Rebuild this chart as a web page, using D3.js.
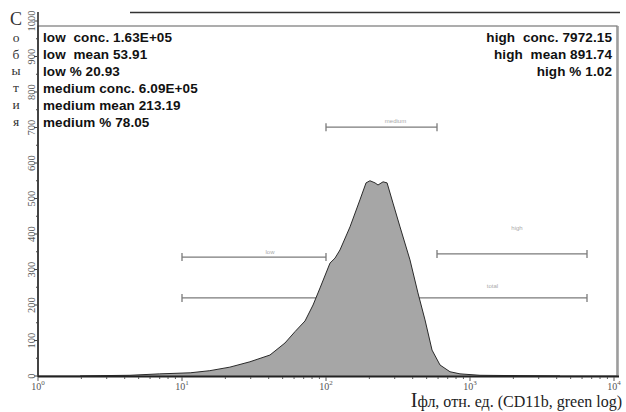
<!DOCTYPE html>
<html>
<head>
<meta charset="utf-8">
<script src="https://cdn.jsdelivr.net/npm/d3@7"></script>
<style>
  body { margin: 0; background: #fff; }
  svg { display: block; }
</style>
</head>
<body>
<script>
// DATA
// histogram: intensity (log axis) and event counts
const intensity = [1.96, 2.7, 4.35, 7, 11.4, 15.6, 21.5, 29.6, 40.8, 51.9, 60.9, 71.5, 81.3, 90.9,
  106.6, 115.5, 125, 146.8, 172, 189.7, 202, 219, 229.7, 249, 265.5, 291.9, 326.6, 383, 435,
  487, 545, 619, 726, 852, 1173, 2224, 4217];
const counts = [0, 1, 2, 6, 9, 15, 25, 40, 59, 93, 125, 155, 200, 248,
  318, 332, 355, 420, 496, 544, 550, 544, 538, 547, 544, 487, 420, 327, 234,
  158, 73, 31, 12, 6, 2, 1, 0];
// gates: name, from, to, level (counts)
const gateNames = ["medium", "low", "high", "total"];
const gateFrom = [100, 10, 590, 10];
const gateTo = [590, 100, 6494, 6494];
const gateLevel = [701, 335, 344, 220];
// stats text
const statsLeft = ["low  conc. 1.63E+05", "low  mean 53.91", "low % 20.93",
  "medium conc. 6.09E+05", "medium mean 213.19", "medium % 78.05"];
const statsRight = ["high  conc. 7972.15", "high  mean 891.74", "high % 1.02"];
// axis ticks
const yTicks = [0, 100, 200, 300, 400, 500, 600, 700, 800, 900, 1000];
const xTickExp = [0, 1, 2, 3, 4];
const yTitle = ["С", "о", "б", "ы", "т", "и", "я"];

// dimension
const w = 626, h = 412;
const pLeft = 38, pRight = 617, pTop = 26, pBottom = 376;

const svg = d3.select("body").append("svg").attr("width", w).attr("height", h);

// scales
const x = d3.scaleLog().domain([1, 10000]).range([pLeft, 614]);
const y = d3.scaleLinear().domain([0, 1000]).range([pBottom, 21]);

// top decorative line and frame
svg.append("line").attr("x1", 130).attr("x2", 620).attr("y1", 12.5).attr("y2", 12.5)
  .attr("stroke", "#333").attr("stroke-width", 1.4);
svg.append("rect").attr("x", pLeft).attr("y", pTop).attr("width", pRight - pLeft).attr("height", pBottom - pTop)
  .attr("fill", "none").attr("stroke", "#777").attr("stroke-width", 1.2);
svg.append("line").attr("x1", pRight + 1).attr("x2", pRight + 1).attr("y1", pTop).attr("y2", pBottom)
  .attr("stroke", "#999").attr("stroke-width", 1.5);

// gates (drawn under the histogram)
const gates = gateNames.map((n, i) => ({ name: n, from: gateFrom[i], to: gateTo[i], level: gateLevel[i] }));
const gG = svg.append("g").attr("stroke", "#7a7a7a").attr("stroke-width", 1.3);
gates.forEach(g => {
  const yy = y(g.level);
  gG.append("line").attr("x1", x(g.from)).attr("x2", x(g.to)).attr("y1", yy).attr("y2", yy);
  gG.append("line").attr("x1", x(g.from)).attr("x2", x(g.from)).attr("y1", yy - 4).attr("y2", yy + 4);
  gG.append("line").attr("x1", x(g.to)).attr("x2", x(g.to)).attr("y1", yy - 4).attr("y2", yy + 4);
});
// faint gate labels
const labelShift = { medium: [14, -4], low: [16, -3], high: [5, -24], total: [108, -10] };
gates.forEach(g => {
  const cx = (x(g.from) + x(g.to)) / 2 + labelShift[g.name][0];
  svg.append("text").attr("x", cx).attr("y", y(g.level) + labelShift[g.name][1])
    .attr("text-anchor", "middle").attr("font-family", "Liberation Sans").attr("font-size", 6)
    .attr("fill", "#aaa").text(g.name);
});

// histogram
const pts = intensity.map((d, i) => [d, counts[i]]);
const area = d3.area().x(d => x(d[0])).y0(y(0)).y1(d => y(d[1]));
svg.append("path").datum(pts).attr("d", area).attr("fill", "#a6a6a6").attr("stroke", "none");
const line = d3.line().x(d => x(d[0])).y(d => y(d[1]));
svg.append("path").datum(pts).attr("d", line).attr("fill", "none").attr("stroke", "#2a2a2a").attr("stroke-width", 1);

// y axis
svg.append("line").attr("x1", pLeft).attr("x2", pLeft).attr("y1", 12).attr("y2", pBottom + 1)
  .attr("stroke", "#222").attr("stroke-width", 1.5);
d3.range(0, 1001, 50).forEach(v => {
  const len = v % 100 === 0 ? 4 : 2;
  svg.append("line").attr("x1", pLeft - len).attr("x2", pLeft).attr("y1", y(v)).attr("y2", y(v))
    .attr("stroke", "#444").attr("stroke-width", 1);
});
yTicks.forEach(v => {
  svg.append("text").attr("transform", `translate(34.5,${y(v)}) rotate(-90)`)
    .attr("text-anchor", "middle").attr("font-family", "Liberation Serif").attr("font-size", 10.5)
    .attr("fill", "#555").text(v);
});

// x axis
svg.append("line").attr("x1", pLeft).attr("x2", pRight + 2).attr("y1", pBottom + 0.5).attr("y2", pBottom + 0.5)
  .attr("stroke", "#222").attr("stroke-width", 2);
x.ticks().forEach(v => {
  const major = Math.abs(Math.log10(v) - Math.round(Math.log10(v))) < 1e-9;
  svg.append("line").attr("x1", x(v)).attr("x2", x(v)).attr("y1", pBottom + 1).attr("y2", pBottom + (major ? 5 : 3))
    .attr("stroke", "#555").attr("stroke-width", 1);
});
xTickExp.forEach(e => {
  const t = svg.append("text").attr("x", x(Math.pow(10, e))).attr("y", 390)
    .attr("text-anchor", "middle").attr("font-family", "Liberation Serif").attr("font-size", 10)
    .attr("fill", "#555");
  t.append("tspan").text("10");
  t.append("tspan").attr("dy", -5).attr("font-size", 7).text(e);
});

// x title
const xt = svg.append("text").attr("x", 622).attr("y", 407).attr("text-anchor", "end")
  .attr("font-family", "Liberation Serif").attr("fill", "#222");
xt.append("tspan").attr("font-size", 20).text("I");
xt.append("tspan").attr("font-size", 16).text("фл, отн. ед. (CD11b, green log)");

// y title, stacked letters
yTitle.forEach((c, i) => {
  svg.append("text").attr("x", 16).attr("y", i === 0 ? 25 : 25 + i * 16.8)
    .attr("text-anchor", "middle").attr("font-family", "Liberation Serif")
    .attr("font-size", i === 0 ? 18 : 13.5).attr("fill", "#333").text(c);
});

// stats
statsLeft.forEach((s, i) => {
  svg.append("text").attr("x", 43).attr("y", 42 + i * 17).attr("font-family", "Liberation Sans")
    .attr("font-weight", "bold").attr("font-size", 13.5).attr("letter-spacing", 0.1)
    .attr("fill", "#111").style("white-space", "pre").text(s);
});
statsRight.forEach((s, i) => {
  svg.append("text").attr("x", 612).attr("y", 42 + i * 17).attr("text-anchor", "end").attr("font-family", "Liberation Sans")
    .attr("font-weight", "bold").attr("font-size", 13.5).attr("letter-spacing", 0.1)
    .attr("fill", "#111").style("white-space", "pre").text(s);
});
</script>
</body>
</html>
